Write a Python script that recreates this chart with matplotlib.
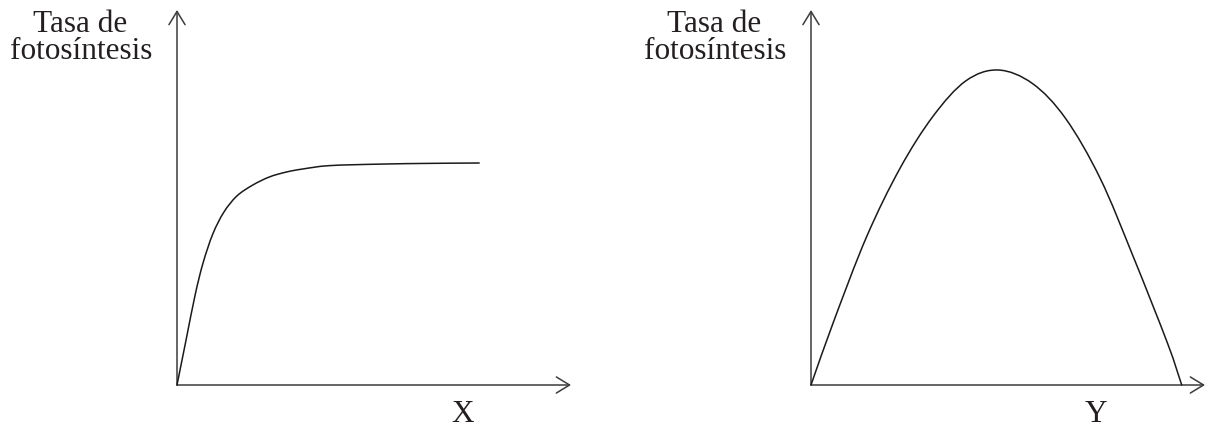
import matplotlib
matplotlib.use("Agg")
import matplotlib.pyplot as plt
import numpy as np
from matplotlib.path import Path
from matplotlib.patches import PathPatch, FancyArrowPatch

# Photosynthesis rate vs factor X (saturating response)
x_curve_x = [0.0, 0.23, 0.46, 0.66, 0.91, 1.19, 1.52, 1.92, 2.35, 2.78, 3.19, 3.87, 5.14, 6.41, 7.67]
x_curve_y = [0.0, 1.20, 2.40, 3.25, 4.03, 4.61, 5.04, 5.33, 5.55, 5.68, 5.76, 5.85, 5.89, 5.91, 5.92]

# Photosynthesis rate vs factor Y (optimum response)
y_curve_x = [0.0, 0.57, 1.41, 2.26, 3.10, 3.93, 4.75, 5.62, 6.46, 7.34, 8.18, 9.05, 9.41]
y_curve_y = [0.0, 1.68, 3.95, 5.78, 7.17, 8.11, 8.40, 8.04, 7.11, 5.51, 3.42, 1.11, 0.0]

y_label_lines = ["Tasa de", "fotosíntesis"]
x_labels = ["X", "Y"]

W, H = 1208, 430
FONT = "Liberation Serif"
TEXT_COLOR = "#231f20"
AXIS_COLOR = "#3c3c3c"


def smooth_path(xs, ys):
    """Catmull-Rom spline through the points, as cubic Bezier segments."""
    pts = np.column_stack([xs, ys]).astype(float)
    n = len(pts)
    verts = [pts[0]]
    codes = [Path.MOVETO]
    for i in range(n - 1):
        p0 = pts[i - 1] if i > 0 else 2 * pts[0] - pts[1]
        p1 = pts[i]
        p2 = pts[i + 1]
        p3 = pts[i + 2] if i + 2 < n else 2 * pts[-1] - pts[-2]
        c1 = p1 + (p2 - p0) / 6.0
        c2 = p2 - (p3 - p1) / 6.0
        verts += [c1, c2, p2]
        codes += [Path.CURVE4] * 3
    return Path(verts, codes)


def draw_panel(ax, cx, cy, xlabel):
    ax.set_xlim(0, 10)
    ax.set_ylim(0, 10)
    ax.axis("off")
    style = "->,head_length=0.95,head_width=0.58"
    for end in [(10, 0), (0, 10)]:
        arr = FancyArrowPatch((0, 0), end, arrowstyle=style, mutation_scale=10,
                              color=AXIS_COLOR, lw=1.1, shrinkA=0, shrinkB=0,
                              clip_on=False, transform=ax.transData)
        ax.add_patch(arr)
    ax.add_patch(PathPatch(smooth_path(cx, cy), fill=False, edgecolor="#1a1a1a",
                           lw=1.1, clip_on=False, capstyle="round"))
    ax.text(-2.46, 9.42, y_label_lines[0], ha="center", va="baseline",
            fontsize=22.5, family=FONT, color=TEXT_COLOR, clip_on=False)
    ax.text(-2.43, 8.69, y_label_lines[1], ha="center", va="baseline",
            fontsize=22.5, family=FONT, color=TEXT_COLOR, clip_on=False)
    ax.text(7.24, -0.99, xlabel, ha="center", va="baseline",
            fontsize=22.5, family=FONT, color=TEXT_COLOR, clip_on=False)


fig = plt.figure(figsize=(W / 100, H / 100), dpi=100)
fig.patch.set_facecolor("white")

panel_w = 394
panel_h = 375
origins = [(177, 385), (811, 385)]
curves = [(x_curve_x, x_curve_y), (y_curve_x, y_curve_y)]

for (ox, oy), (cx, cy), lab in zip(origins, curves, x_labels):
    ax = fig.add_axes([ox / W, (H - oy) / H, panel_w / W, panel_h / H])
    draw_panel(ax, cx, cy, lab)

fig.savefig("out.png", dpi=100, facecolor="white")
